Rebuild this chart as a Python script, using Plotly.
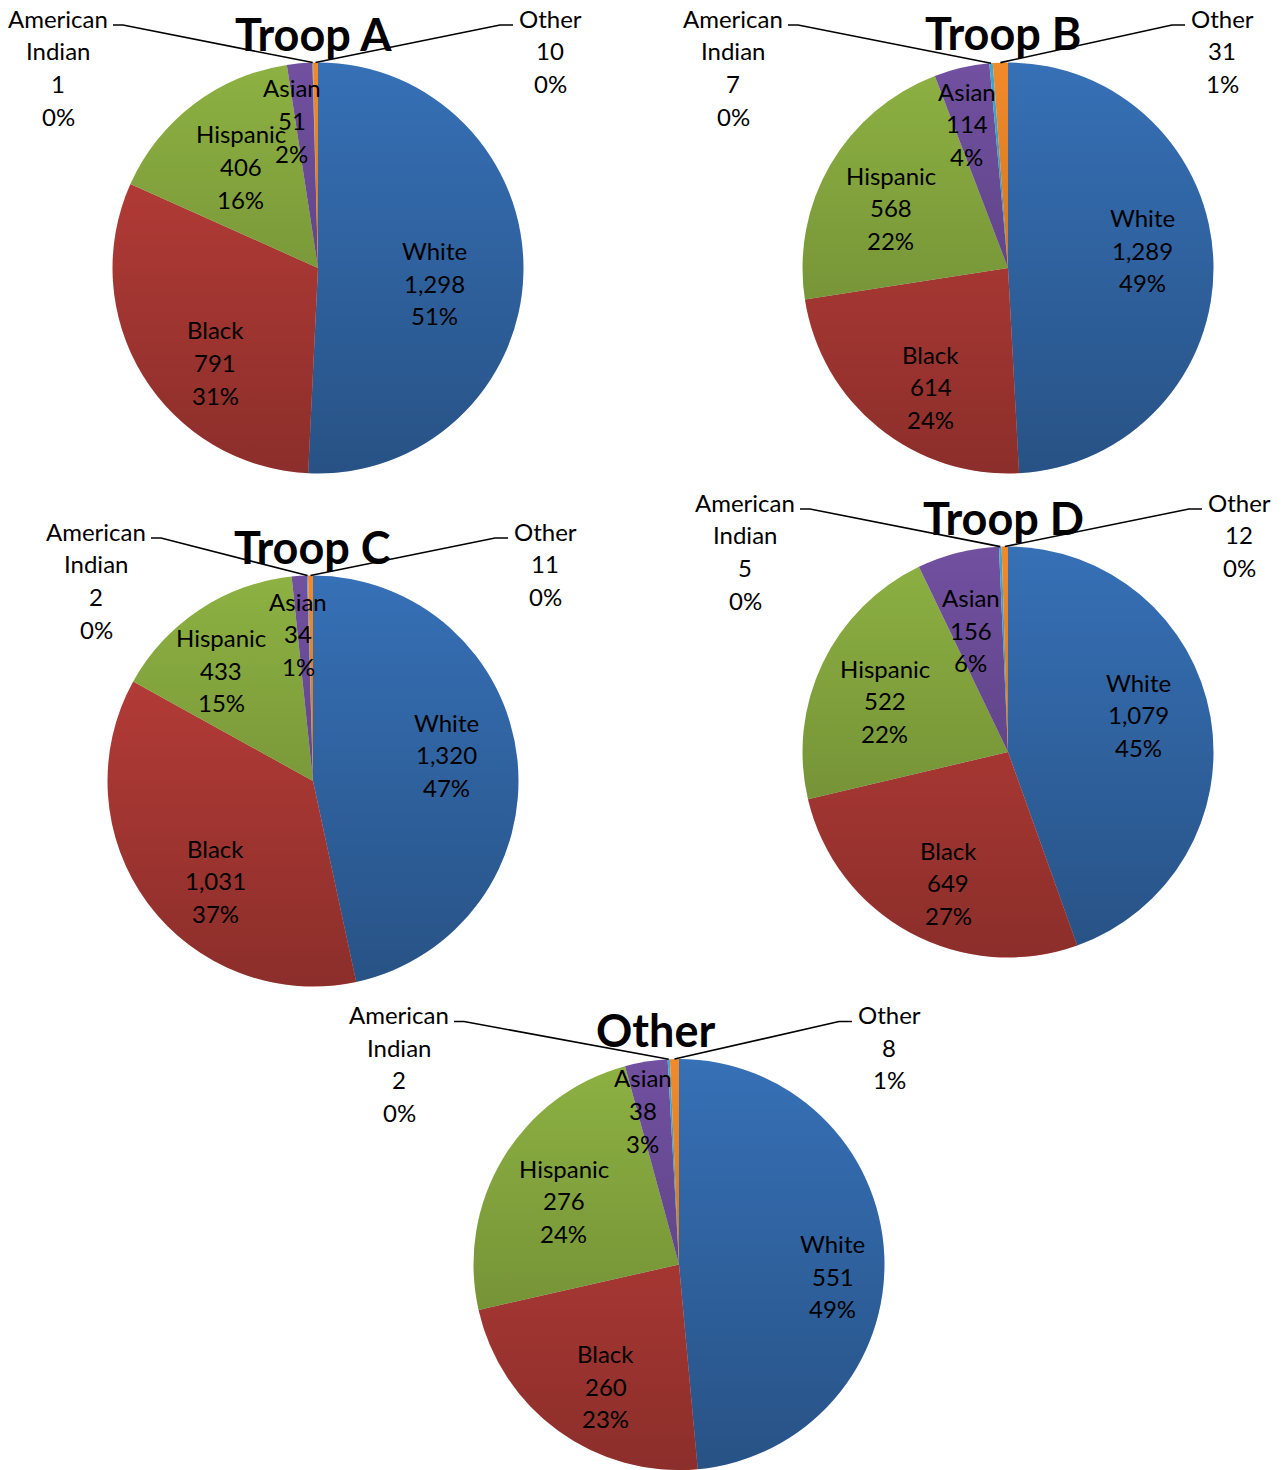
import math
import base64
import plotly.graph_objects as go

W, H = 1286, 1470

# ---- data -------------------------------------------------------------
categories = ["White", "Black", "Hispanic", "Asian", "American Indian", "Other"]
panel_titles = ["Troop A", "Troop B", "Troop C", "Troop D", "Other"]

troop_a = [1298, 791, 406, 51, 1, 10]
troop_b = [1289, 614, 568, 114, 7, 31]
troop_c = [1320, 1031, 433, 34, 2, 11]
troop_d = [1079, 649, 522, 156, 5, 12]
troop_other = [551, 260, 276, 38, 2, 8]

pct_a = [51, 31, 16, 2, 0, 0]
pct_b = [49, 24, 22, 4, 0, 1]
pct_c = [47, 37, 15, 1, 0, 0]
pct_d = [45, 27, 22, 6, 0, 0]
pct_other = [49, 23, 24, 3, 0, 1]

series = [troop_a, troop_b, troop_c, troop_d, troop_other]
percents = [pct_a, pct_b, pct_c, pct_d, pct_other]

# ---- styling / layout -------------------------------------------------
colors = ["#3670B6", "#BF3F3A", "#8DB142", "#7150A0", "#3FAACB", "#F28A2A"]
FONT = "Lato"
R = 205.5
LABEL_SIZE = 24
PITCH = 32.7

# pie centre (px), title offset, outside-label x offsets (AI, Other)
panels = [
    dict(c=(318, 268), tdx=-5, tdy=-234, ai_dx=-260, ot_dx=232),
    dict(c=(1008, 268), tdx=-5, tdy=-235, ai_dx=-275, ot_dx=214),
    dict(c=(313, 781), tdx=-1, tdy=-234, ai_dx=-217, ot_dx=232),
    dict(c=(1008, 752), tdx=-5, tdy=-234, ai_dx=-263, ot_dx=231),
    dict(c=(679, 1264.5), tdx=-24, tdy=-234.5, ai_dx=-280, ot_dx=210),
]

# inside-label placement per slice: (fraction of radius, degrees off the slice mid-angle)
label_fit = [
    [(0.57, 6), (0.68, -11), (0.62, 0), (0.73, -5)],
    [(0.66, -6), (0.69, -6), (0.64, -3), (0.73, -3)],
    [(0.66, -5), (0.68, -9), (0.70, -6), (0.72, -2)],
    [(0.66, -6), (0.70, -4), (0.65, -3), (0.62, -3)],
    [(0.75, 7), (0.69, -5), (0.64, -2), (0.77, -4)],
]


def px(x):
    return min(max(x / W, 0.0), 1.0)


def py(y):
    return min(max(1 - y / H, 0.0), 1.0)


# darkening gradient laid over each pie (lighter top, darker bottom)
svg = (
    '<svg xmlns="http://www.w3.org/2000/svg" width="200" height="200" viewBox="0 0 200 200">'
    '<defs><linearGradient id="g" x1="0" y1="0" x2="0" y2="1">'
    '<stop offset="0" stop-color="#000" stop-opacity="0"/>'
    '<stop offset="1" stop-color="#000" stop-opacity="0.27"/>'
    '</linearGradient></defs>'
    '<circle cx="100" cy="100" r="100" fill="url(#g)"/></svg>'
)
shade_src = "data:image/svg+xml;base64," + base64.b64encode(svg.encode()).decode()

fig = go.Figure()
annotations = []
shapes = []
images = []


def text_block(x, y_first, lines):
    """Stack centred lines of label text with a fixed line pitch."""
    for k, s in enumerate(lines):
        annotations.append(dict(
            x=px(x), y=py(y_first + k * PITCH), xref="paper", yref="paper",
            text=s, showarrow=False,
            font=dict(family=FONT, size=LABEL_SIZE, color="black"),
            xanchor="center", yanchor="middle",
        ))


for title, vals, pcts, p, fit in zip(panel_titles, series, percents, panels, label_fit):
    cx, cy = p["c"]
    fig.add_trace(go.Pie(
        labels=categories,
        values=vals,
        sort=False,
        direction="clockwise",
        rotation=0,
        marker=dict(colors=colors, line=dict(width=0)),
        textinfo="none",
        hoverinfo="label+value+percent",
        showlegend=False,
        domain=dict(x=[px(cx - R), px(cx + R)], y=[py(cy + R), py(cy - R)]),
    ))
    images.append(dict(
        source=shade_src, xref="paper", yref="paper",
        x=px(cx - R), y=py(cy - R), sizex=2 * R / W, sizey=2 * R / H,
        xanchor="left", yanchor="top", sizing="stretch", layer="above",
    ))

    annotations.append(dict(
        x=px(cx + p["tdx"]), y=py(cy + p["tdy"]), xref="paper", yref="paper",
        text="<b>%s</b>" % title, showarrow=False,
        font=dict(family=FONT, size=45, color="black"),
        xanchor="center", yanchor="middle",
    ))

    total = sum(vals)
    cum = 0
    mids = []
    for v in vals:
        mids.append((cum + v / 2) / total * 2 * math.pi)
        cum += v

    # labels inside the four large slices
    for i in range(4):
        f, dang = fit[i]
        a = mids[i] + math.radians(dang)
        lx = cx + f * R * math.sin(a)
        ly = cy - f * R * math.cos(a)
        text_block(lx, ly - PITCH, [categories[i], f"{vals[i]:,}", "%d%%" % pcts[i]])

    # outside labels with leader lines for the two tiny slices
    top_y = cy - 250
    hy = top_y + 7

    # American Indian (left)
    ai_x = cx + p["ai_dx"]
    text_block(ai_x, top_y, ["American", "Indian", "%d" % vals[4], "%d%%" % pcts[4]])
    a = mids[4]
    ex, ey = cx + R * math.sin(a), cy - R * math.cos(a)
    hx0 = ai_x + 55
    shapes.append(dict(
        type="path", xref="paper", yref="paper", layer="above",
        path="M %f,%f L %f,%f L %f,%f" % (px(hx0), py(hy), px(hx0 + 10), py(hy), px(ex), py(ey)),
        line=dict(color="black", width=1.6),
    ))

    # Other (right)
    ot_x = cx + p["ot_dx"]
    text_block(ot_x, top_y, ["Other", "%d" % vals[5], "%d%%" % pcts[5]])
    a = mids[5]
    ex, ey = cx + R * math.sin(a), cy - R * math.cos(a)
    hx0 = ot_x - 37
    shapes.append(dict(
        type="path", xref="paper", yref="paper", layer="above",
        path="M %f,%f L %f,%f L %f,%f" % (px(hx0), py(hy), px(hx0 - 13), py(hy), px(ex), py(ey)),
        line=dict(color="black", width=1.6),
    ))

fig.update_layout(
    width=W, height=H,
    margin=dict(l=0, r=0, t=0, b=0),
    paper_bgcolor="white",
    plot_bgcolor="white",
    annotations=annotations,
    shapes=shapes,
    images=images,
)

fig.write_html("out.html")
